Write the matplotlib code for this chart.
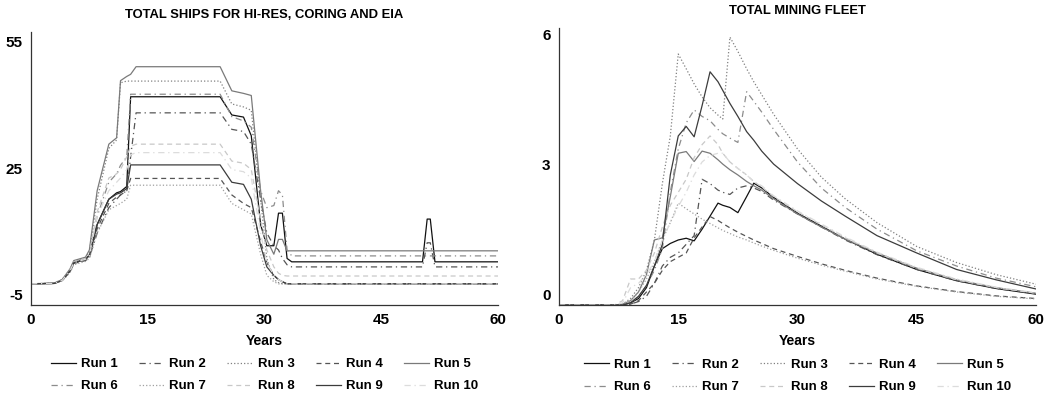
import matplotlib
matplotlib.use("Agg")
import matplotlib.pyplot as plt
import matplotlib.transforms as mtransforms

plt.rcParams['font.family'] = ['Liberation Sans', 'DejaVu Sans']
plt.rcParams['font.weight'] = 'bold'
plt.rcParams['axes.unicode_minus'] = False

# ---- left panel: total ships for hi-res, coring and EIA ----
years_l = [0, 3, 4, 5, 5.5, 7, 7.5, 8.5, 10, 11, 11.5, 12.3, 12.8, 13.5, 24.3, 25.8,
           27.3, 28.3, 29.5, 30.3, 31.2, 31.8, 32.3, 32.9, 33.5, 50.3, 50.9, 51.3, 51.9, 60]
ships_run1 = [0, 0.1, 0.8, 3, 5, 5.8, 6.8, 14, 20, 21.5, 21.8, 23, 44.2, 44.2, 44.2, 39.9,
              39.4, 35, 14, 9, 9, 16.7, 16.7, 6, 5.2, 5.2, 15.3, 15.3, 5.2, 5.2]
ships_run2 = [0, 0.1, 0.8, 3, 5, 5.6, 6.3, 12, 18, 20, 21, 22, 30, 40.4, 40.4, 36.5,
              36, 33, 20, 12, 9, 8, 6, 4.5, 4.0, 4.0, 9.7, 9.7, 4.0, 4.0]
ships_run3 = [0, 0.2, 1, 3.3, 5.3, 6.0, 7.5, 20, 32, 34, 47.5, 47.9, 47.9, 47.9, 47.9, 42.5,
              41.8, 41, 20, 6, 1, 0.3, 0, 0, 0, 0, 0, 0, 0, 0]
ships_run4 = [0, 0.1, 0.8, 2.8, 4.8, 5.5, 6.3, 13, 19, 20.5, 21, 22, 24.9, 24.9, 24.9, 21,
              19, 18, 10, 5, 2, 1, 0.5, 0, 0, 0, 0, 0, 0, 0]
ships_run5 = [0, 0.2, 1, 3.5, 5.5, 6.3, 8, 22, 33, 34.5, 48, 49, 49.5, 51.3, 51.3, 45.6,
              45, 44.5, 22, 10.4, 7.0, 10.5, 10.5, 7.8, 7.8, 7.8, 7.8, 7.8, 7.8, 7.8]
ships_run6 = [0, 0.1, 0.8, 3, 5, 5.8, 6.5, 16, 24, 26, 28, 30, 44.8, 44.8, 44.8, 39.5,
              38.5, 37, 22, 18, 18.5, 22, 21, 8, 6.6, 6.6, 6.6, 6.6, 6.6, 6.6]
ships_run7 = [0, 0.1, 0.7, 2.6, 4.5, 5.3, 6, 12, 17.5, 18.5, 19, 20, 23.3, 23.3, 23.3, 19,
              17.5, 16.5, 7, 2, 0.5, 0, 0, 0, 0, 0, 0, 0, 0, 0]
ships_run8 = [0, 0.1, 0.8, 3.2, 5.2, 6, 7, 17, 25, 26, 27, 30, 32.5, 33, 33, 29,
              28.5, 27, 15, 8, 4, 2.5, 2, 1.85, 1.85, 1.85, 1.85, 1.85, 1.85, 1.85]
ships_run9 = [0, 0.1, 0.8, 3, 5, 5.7, 6.7, 14, 20, 21.2, 21.5, 22.5, 28.1, 28.1, 28.1, 24,
              23.5, 20, 9, 4, 2, 1, 0.5, 0, 0, 0, 0, 0, 0, 0]
ships_run10 = [0, 0.1, 0.8, 3, 5, 5.8, 6.6, 16, 22, 24, 25, 27, 30.5, 31, 31, 27,
               26.5, 25, 12, 5, 2, 1, 0.5, 0, 0, 0, 0, 0, 0, 0]

# ---- right panel: total mining fleet ----
years_r = [0, 7, 8, 9, 10, 11, 12, 13, 14, 15, 16, 17, 18, 19, 20, 20.6, 21.5, 22.5,
           23.6, 24.5, 25.5, 27, 30, 33, 36, 40, 45, 50, 55, 60]
fleet_run1 = [0, 0, 0, 0.05, 0.15, 0.4, 0.9, 1.3, 1.42, 1.5, 1.54, 1.48, 1.75, 2.05, 2.35, 2.3,
              2.25, 2.13, 2.5, 2.81, 2.7, 2.48, 2.12, 1.82, 1.52, 1.17, 0.82, 0.56, 0.38, 0.25]
fleet_run2 = [0, 0, 0, 0.02, 0.08, 0.2, 0.5, 0.9, 1.1, 1.2, 1.4, 1.6, 2.9, 2.8, 2.65, 2.6,
              2.55, 2.7, 2.75, 2.7, 2.62, 2.42, 2.1, 1.8, 1.5, 1.16, 0.82, 0.56, 0.38, 0.26]
fleet_run3 = [0, 0, 0.02, 0.15, 0.4, 0.8, 1.5, 2.8, 3.9, 5.79, 5.45, 5.1, 4.8, 4.55, 4.38, 4.29,
              6.18, 5.85, 5.45, 5.15, 4.85, 4.4, 3.6, 2.95, 2.45, 1.9, 1.35, 0.98, 0.7, 0.48]
fleet_run4 = [0, 0, 0, 0.02, 0.1, 0.3, 0.5, 0.8, 1.0, 1.1, 1.2, 1.55, 1.8, 2.04, 1.95, 1.88,
              1.78, 1.68, 1.58, 1.5, 1.42, 1.3, 1.12, 0.95, 0.8, 0.62, 0.44, 0.31, 0.21, 0.15]
fleet_run5 = [0, 0, 0.02, 0.1, 0.3, 0.7, 1.5, 1.55, 2.5, 3.5, 3.54, 3.31, 3.55, 3.5, 3.35, 3.25,
              3.12, 3.0, 2.85, 2.75, 2.65, 2.45, 2.1, 1.8, 1.52, 1.2, 0.85, 0.58, 0.4, 0.27]
fleet_run6 = [0, 0, 0, 0.05, 0.2, 0.45, 0.8, 1.3, 2.6, 3.6, 4.2, 4.5, 4.35, 4.25, 4.05, 3.95,
              3.85, 3.75, 4.92, 4.7, 4.45, 4.05, 3.3, 2.7, 2.25, 1.75, 1.25, 0.9, 0.62, 0.42]
fleet_run7 = [0, 0, 0.02, 0.1, 0.3, 0.6, 1.0, 1.5, 1.9, 2.35, 2.22, 2.1, 1.98, 1.88, 1.78, 1.72,
              1.65, 1.57, 1.5, 1.43, 1.36, 1.26, 1.08, 0.92, 0.78, 0.6, 0.43, 0.3, 0.2, 0.14]
fleet_run8 = [0, 0, 0.1, 0.6, 0.6, 0.8, 1.2, 1.8, 2.3, 2.6, 2.9, 3.4, 3.7, 3.9, 3.7, 3.5,
              3.3, 3.15, 3.0, 2.85, 2.72, 2.5, 2.15, 1.85, 1.55, 1.2, 0.85, 0.58, 0.4, 0.27]
fleet_run9 = [0, 0, 0, 0.05, 0.2, 0.45, 0.9, 1.4, 3.0, 3.9, 4.12, 3.88, 4.6, 5.38, 5.15, 4.95,
              4.65, 4.35, 4.0, 3.8, 3.55, 3.25, 2.8, 2.4, 2.05, 1.6, 1.2, 0.82, 0.58, 0.37]
fleet_run10 = [0, 0, 0.05, 0.4, 0.5, 0.7, 1.0, 1.5, 1.9, 2.27, 2.6, 3.0, 3.3, 3.45, 3.5, 3.5,
               3.3, 3.15, 3.0, 2.85, 2.75, 2.52, 2.17, 1.87, 1.57, 1.22, 0.87, 0.6, 0.41, 0.28]

run_labels = ["Run 1", "Run 2", "Run 3", "Run 4", "Run 5",
              "Run 6", "Run 7", "Run 8", "Run 9", "Run 10"]
ships = [ships_run1, ships_run2, ships_run3, ships_run4, ships_run5,
         ships_run6, ships_run7, ships_run8, ships_run9, ships_run10]
fleet = [fleet_run1, fleet_run2, fleet_run3, fleet_run4, fleet_run5,
         fleet_run6, fleet_run7, fleet_run8, fleet_run9, fleet_run10]

colors = ['#111111', '#555555', '#808080', '#555555', '#7a7a7a',
          '#8c8c8c', '#a0a0a0', '#c8c8c8', '#3c3c3c', '#dcdcdc']
styles = ['-', (0, (5, 3, 1, 3)), ':', (0, (4, 3)), '-',
          (0, (5, 3, 1, 3)), ':', (0, (4, 3)), '-', (0, (5, 3, 1, 3))]

fig = plt.figure(figsize=(10.64, 3.95), dpi=100)
ax1 = fig.add_axes([31 / 1064, 1 - 305 / 395, 467 / 1064, 273 / 395])
ax2 = fig.add_axes([559 / 1064, 1 - 305 / 395, 477 / 1064, 277 / 395])


def style_axes(ax, title, yticks, ylim):
    ax.set_xlim(0, 60)
    ax.set_ylim(*ylim)
    ax.set_xticks([0, 15, 30, 45, 60])
    ax.set_yticks(yticks)
    ax.tick_params(length=0, labelsize=11, pad=6)
    for lab in ax.get_xticklabels() + ax.get_yticklabels():
        lab.set_fontweight('bold')
    # the y labels sit a little above their values in the original
    shift = mtransforms.ScaledTranslation(0, 0.1, fig.dpi_scale_trans)
    for lab in ax.get_yticklabels():
        lab.set_transform(lab.get_transform() + shift)
    for s in ['top', 'right']:
        ax.spines[s].set_visible(False)
    for s in ['left', 'bottom']:
        ax.spines[s].set_color('#333333')
        ax.spines[s].set_linewidth(0.9)
    ax.set_xlabel('Years', fontsize=10, fontweight='bold', labelpad=5)
    ax.set_title(title, fontsize=9.4, fontweight='bold', pad=10)
    # legend fills column-wise, so order the handles to read Run 1..5 on the first row
    handles, labels = ax.get_legend_handles_labels()
    order = [0, 5, 1, 6, 2, 7, 3, 8, 4, 9]
    leg = ax.legend([handles[i] for i in order], [labels[i] for i in order],
                    loc='upper center', bbox_to_anchor=(0.5, -0.175), ncol=5,
                    frameon=False, fontsize=9.5, handlelength=1.9,
                    columnspacing=1.6, handletextpad=0.4, labelspacing=0.75,
                    borderaxespad=0)
    for t in leg.get_texts():
        t.set_fontweight('bold')


for vals, lab, c, ls in zip(ships, run_labels, colors, styles):
    ax1.plot(years_l, vals, color=c, linestyle=ls, linewidth=0.9, label=lab)
for vals, lab, c, ls in zip(fleet, run_labels, colors, styles):
    ax2.plot(years_r, vals, color=c, linestyle=ls, linewidth=0.9, label=lab)

style_axes(ax1, 'TOTAL SHIPS FOR HI-RES, CORING AND EIA', [-5, 25, 55], (-5, 59.5))
style_axes(ax2, 'TOTAL MINING FLEET', [0, 3, 6], (0, 6.39))

fig.savefig('out.png', dpi=100)
